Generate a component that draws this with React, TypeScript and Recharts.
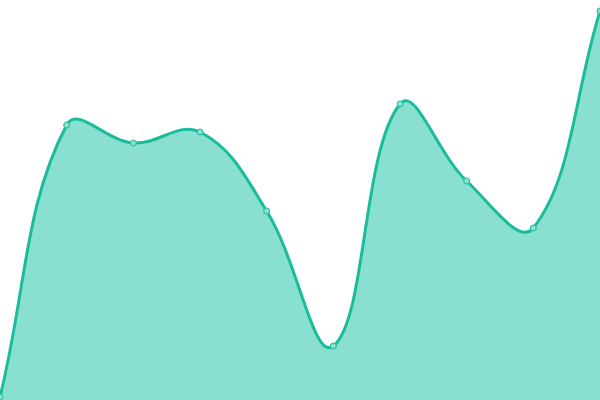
import { AreaChart, Area, XAxis, YAxis } from 'recharts';

const categories = ['1', '2', '3', '4', '5', '6', '7', '8', '9', '10'];
const values = [3, 275, 257, 268, 189, 54, 296, 219, 172, 389];

const data = categories.map((name, i) => ({ name, value: values[i] }));

// distance-weighted cardinal spline (tension 0.4), as a d3-style curve factory
class TensionCurve {
  _context: any;
  _tension: number;
  _line = NaN;
  _points: [number, number][] = [];

  constructor(context: any, tension: number) {
    this._context = context;
    this._tension = tension;
  }
  areaStart() {
    this._line = 0;
  }
  areaEnd() {
    this._line = NaN;
  }
  lineStart() {
    this._points = [];
  }
  point(x: number, y: number) {
    this._points.push([+x, +y]);
  }
  lineEnd() {
    const pts = this._points;
    const ctx = this._context;
    const n = pts.length;
    if (n) {
      if (this._line) ctx.lineTo(pts[0][0], pts[0][1]);
      else ctx.moveTo(pts[0][0], pts[0][1]);
      const cps = pts.map((p, i) => {
        const prev = pts[Math.max(0, i - 1)];
        const next = pts[Math.min(n - 1, i + 1)];
        const d01 = Math.hypot(p[0] - prev[0], p[1] - prev[1]);
        const d12 = Math.hypot(next[0] - p[0], next[1] - p[1]);
        let s01 = d01 / (d01 + d12);
        let s12 = d12 / (d01 + d12);
        if (!isFinite(s01)) s01 = 0;
        if (!isFinite(s12)) s12 = 0;
        const fa = this._tension * s01;
        const fb = this._tension * s12;
        return {
          prev: [p[0] - fa * (next[0] - prev[0]), p[1] - fa * (next[1] - prev[1])],
          next: [p[0] + fb * (next[0] - prev[0]), p[1] + fb * (next[1] - prev[1])],
        };
      });
      for (let i = 1; i < n; i++) {
        const a = cps[i - 1].next;
        const b = cps[i].prev;
        ctx.bezierCurveTo(a[0], a[1], b[0], b[1], pts[i][0], pts[i][1]);
      }
    }
    if (this._line || (this._line !== 0 && n === 1)) ctx.closePath();
    this._line = 1 - this._line;
  }
}

const tensionCurve = (context: any) => new TensionCurve(context, 0.4);

export default function App() {
  return (
    <div style={{ position: 'fixed', top: 0, left: 0, width: 600, height: 400 }}>
      <AreaChart width={600} height={400} data={data} margin={{ top: 0, right: 0, left: 0, bottom: 0 }}>
        <XAxis dataKey="name" hide padding={{ left: 0, right: 0 }} />
        <YAxis hide domain={[0, 400]} />
        <Area
          type={tensionCurve as any}
          dataKey="value"
          stroke="#1abc9c"
          strokeWidth={3}
          fill="#8ae0d0"
          fillOpacity={1}
          dot={{ r: 3, fill: '#8ae0d0', stroke: '#1abc9c', strokeWidth: 1 }}
          activeDot={false}
          isAnimationActive={false}
        />
      </AreaChart>
    </div>
  );
}
